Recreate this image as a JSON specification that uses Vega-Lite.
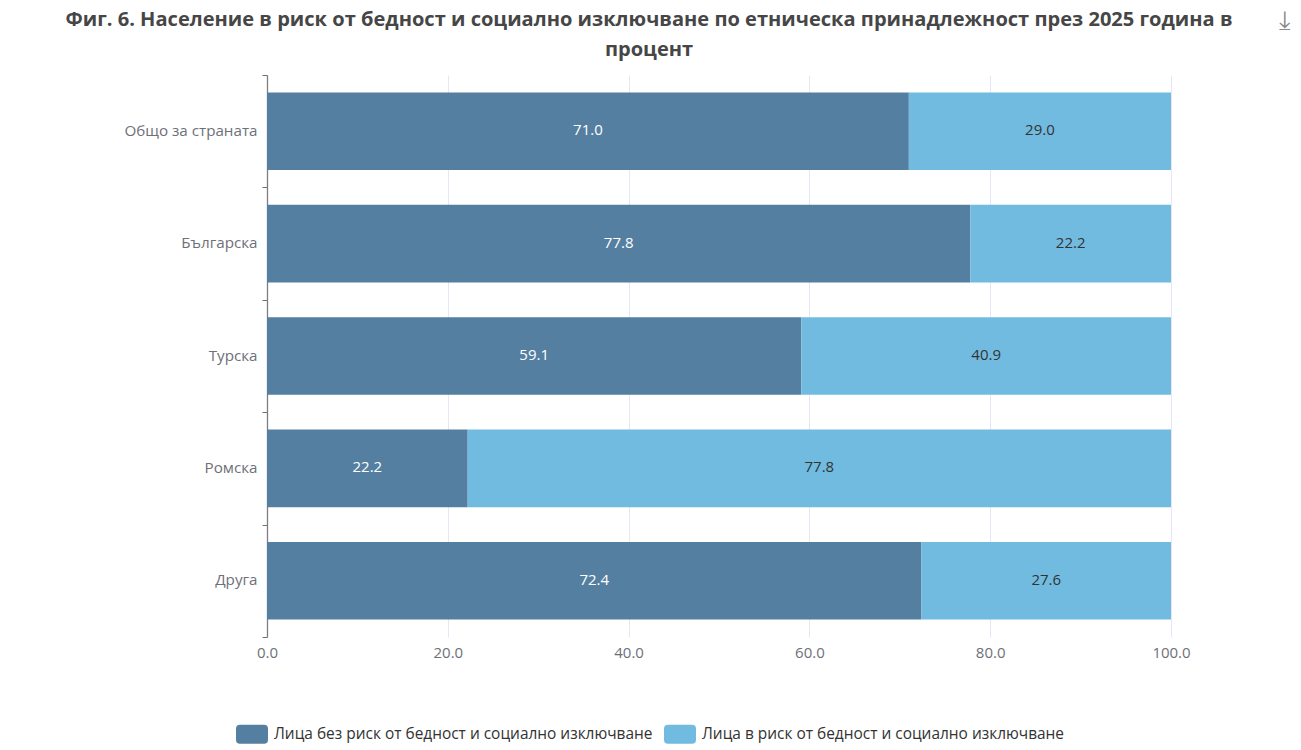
{"$schema":"https://vega.github.io/schema/vega-lite/v6.json","width":904,"height":562,"autosize":{"type":"none"},"padding":{"left":267,"top":75,"right":130,"bottom":113},"background":"#ffffff","font":"Open Sans","title":{"text":["Фиг. 6. Население в риск от бедност и социално изключване по етническа принадлежност през 2025 година в","процент"],"anchor":"middle","dx":-70,"offset":-53,"font":"Open Sans","fontSize":20.07,"fontWeight":"bold","color":"#464646","lineHeight":30},"data":{"values":[{"group":"Общо за страната","series":"Лица без риск от бедност и социално изключване","rank":1,"value":71.0},{"group":"Общо за страната","series":"Лица в риск от бедност и социално изключване","rank":2,"value":29.0},{"group":"Българска","series":"Лица без риск от бедност и социално изключване","rank":1,"value":77.8},{"group":"Българска","series":"Лица в риск от бедност и социално изключване","rank":2,"value":22.2},{"group":"Турска","series":"Лица без риск от бедност и социално изключване","rank":1,"value":59.1},{"group":"Турска","series":"Лица в риск от бедност и социално изключване","rank":2,"value":40.9},{"group":"Ромска","series":"Лица без риск от бедност и социално изключване","rank":1,"value":22.2},{"group":"Ромска","series":"Лица в риск от бедност и социално изключване","rank":2,"value":77.8},{"group":"Друга","series":"Лица без риск от бедност и социално изключване","rank":1,"value":72.4},{"group":"Друга","series":"Лица в риск от бедност и социално изключване","rank":2,"value":27.6}]},"encoding":{"y":{"field":"group","type":"nominal","sort":["Общо за страната","Българска","Турска","Ромска","Друга"],"scale":{"paddingInner":0,"paddingOuter":0},"axis":{"title":"⤓","titleX":1017,"titleY":-55,"titleAngle":0,"titleFontSize":26,"titleFontWeight":"normal","titleColor":"#8a8a8a","titleFont":"DejaVu Sans","titleAlign":"center","titleBaseline":"middle","labelColor":"#6E7079","labelFontSize":15.2,"labelFont":"Open Sans","labelPadding":5,"labelOffset":-1,"tickSize":5,"tickColor":"#6E7079","tickBand":"extent","domainColor":"#7d7d85","domainWidth":1.3,"grid":false}},"x":{"field":"value","type":"quantitative","stack":"zero","scale":{"domain":[0,100],"nice":false},"axis":{"title":null,"values":[0,20,40,60,80,100],"format":".1f","labelColor":"#6E7079","labelFontSize":15,"labelFont":"Open Sans","labelPadding":8,"labelFlush":false,"ticks":false,"domain":false,"grid":true,"gridColor":"#E6E6F5","gridWidth":1}},"order":{"field":"rank","type":"quantitative"}},"layer":[{"mark":{"type":"bar","height":{"band":0.69}},"encoding":{"color":{"field":"series","type":"nominal","scale":{"domain":["Лица без риск от бедност и социално изключване","Лица в риск от бедност и социално изключване"],"range":["#557FA0","#72BBE0"]},"legend":{"title":null,"orient":"none","legendX":-31,"legendY":643,"direction":"horizontal","columns":2,"symbolType":"M-0.75,-0.594H0.75Q1,-0.594 1,-0.344V0.344Q1,0.594 0.75,0.594H-0.75Q-1,0.594 -1,0.344V-0.344Q-1,-0.594 -0.75,-0.594Z","symbolSize":1024,"symbolStrokeWidth":0,"symbolOpacity":1,"labelFont":"Open Sans","labelFontSize":15.45,"labelColor":"#333333","labelOffset":6,"labelLimit":500,"columnPadding":11}}}},{"mark":{"type":"text","font":"Open Sans","fontSize":15,"baseline":"middle","align":"center","dy":-1},"encoding":{"x":{"field":"value","type":"quantitative","stack":"zero","bandPosition":0.5},"text":{"field":"value","type":"quantitative","format":".1f"},"color":{"field":"rank","type":"nominal","scale":{"domain":[1,2],"range":["#ffffff","#333333"]},"legend":null}}}],"resolve":{"scale":{"color":"independent"}},"config":{"view":{"stroke":null}}}
